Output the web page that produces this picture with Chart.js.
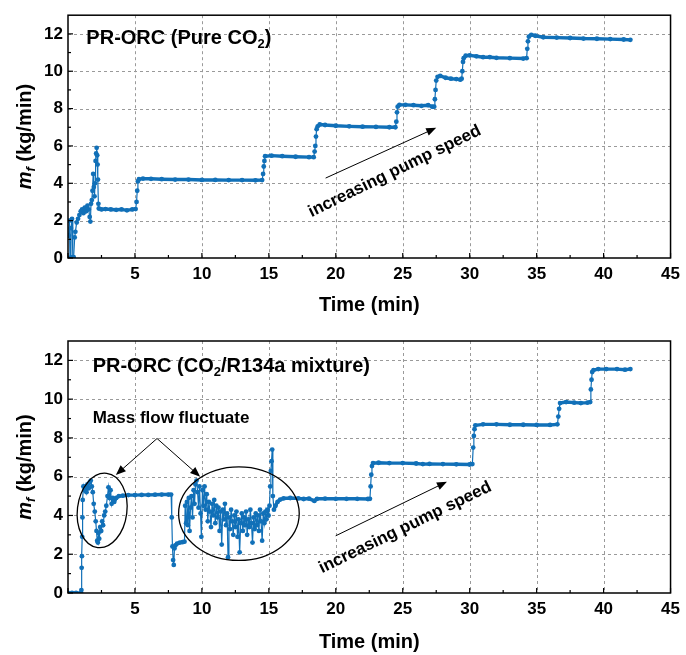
<!DOCTYPE html>
<html>
<head>
<meta charset="utf-8">
<script src="https://cdn.jsdelivr.net/npm/chart.js@4.4.0/dist/chart.umd.min.js"></script>
<style>
html,body{margin:0;padding:0;background:#fff;}
#wrap{position:relative;width:686px;height:655px;background:#fff;}
canvas{position:absolute;left:0;}
</style>
</head>
<body>
<div id="wrap">
<canvas id="c1" width="686" height="325" style="top:0;width:686px;height:325px"></canvas>
<canvas id="c2" width="686" height="330" style="top:325px;width:686px;height:330px"></canvas>
</div>
<script>
// ---------------- DATA ----------------
const xTickValues = [0, 5, 10, 15, 20, 25, 30, 35, 40, 45];
const yTickValues = [0, 2, 4, 6, 8, 10, 12];

// Top panel: PR-ORC (Pure CO2)
const timeTop = [
0.05,0.1,0.15,0.22,0.3,0.36,0.42,0.5,0.55,0.65,0.75,0.85,0.95,1.05,1.15,1.25,1.35,1.45,1.55,1.62,1.67,1.72,1.78,1.83,1.88,1.93,1.98,2.02,2.06,2.1,2.14,2.18,2.21,2.24,2.27,2.3,
2.5,2.8,3.2,3.6,4.0,4.4,4.8,5.05,5.12,5.17,5.22,5.3,5.6,6.2,7.0,8.0,9.0,10.0,11.0,12.0,13.0,14.0,14.5,
14.57,14.62,14.67,14.72,15.2,16.0,17.0,18.0,18.35,18.42,18.47,18.52,18.57,18.65,18.8,19.2,20.0,21.0,22.0,23.0,24.0,24.45,
24.52,24.57,24.62,24.75,25.2,25.8,26.4,26.9,27.2,27.35,27.4,27.45,27.5,27.6,27.8,28.2,28.6,29.0,29.3,29.4,
29.45,29.5,29.55,29.7,30.0,30.5,31.0,31.5,32.0,33.0,34.0,34.25,34.3,34.35,34.42,34.6,34.9,35.5,36.5,37.5,38.5,39.5,40.5,41.5,42.0
];
const flowTop = [
1.2,2.0,0.0,1.6,2.1,0.05,0.05,1.1,1.4,1.9,2.1,2.3,2.5,2.6,2.4,2.7,2.5,2.8,2.6,2.2,1.95,2.9,3.1,3.6,4.5,3.8,3.3,4.0,5.2,5.6,5.9,5.5,5.0,4.2,2.9,2.65,
2.6,2.62,2.6,2.58,2.6,2.55,2.6,2.62,3.0,3.6,4.1,4.22,4.25,4.24,4.22,4.2,4.2,4.18,4.18,4.17,4.17,4.16,4.17,
4.5,4.9,5.2,5.45,5.48,5.45,5.42,5.4,5.4,5.7,6.0,6.5,6.9,7.05,7.15,7.12,7.08,7.05,7.03,7.02,7.0,7.0,
7.3,7.8,8.1,8.2,8.2,8.18,8.15,8.18,8.1,8.1,8.5,9.0,9.5,9.7,9.75,9.65,9.6,9.58,9.55,9.6,
10.0,10.5,10.7,10.83,10.85,10.8,10.75,10.75,10.72,10.7,10.68,10.7,11.2,11.6,11.85,11.95,11.9,11.82,11.8,11.78,11.75,11.74,11.72,11.7,11.68
];

// Bottom panel: PR-ORC (CO2/R134a mixture)
const timeBottom = [
0.0,0.3,0.6,0.98,1.0,1.02,1.04,1.06,1.08,1.1,1.15,1.22,1.3,1.38,1.45,1.55,1.62,1.7,1.78,1.85,1.92,2.0,2.07,2.13,2.18,2.23,2.28,2.33,2.4,2.48,2.55,2.62,2.7,2.78,2.86,2.95,3.02,3.1,3.18,3.26,3.34,3.45,3.6,3.8,
4.1,4.5,5.0,5.5,6.0,6.5,7.0,7.5,7.7,7.75,7.8,7.85,7.9,7.95,8.02,8.15,8.35,8.55,8.7,
8.75,8.82,8.88,8.95,9.02,9.08,9.15,9.22,9.3,9.38,9.45,9.52,9.6,9.68,9.75,9.82,9.9,9.96,10.04,10.12,10.2,10.28,10.36,10.44,10.52,10.6,10.68,10.76,10.84,10.92,
11.0,11.08,11.16,11.24,11.32,11.4,11.48,11.56,11.64,11.72,11.8,11.88,11.95,12.02,12.1,12.18,12.26,12.34,12.42,12.5,12.58,12.66,12.74,12.82,12.9,12.98,
13.06,13.14,13.22,13.3,13.38,13.46,13.54,13.62,13.7,13.78,13.86,13.94,14.02,14.1,14.18,14.26,14.34,14.42,14.5,14.58,14.66,14.74,14.82,14.9,14.98,
15.05,15.1,15.15,15.2,15.25,15.3,15.38,15.5,15.65,15.85,16.1,16.6,17.2,17.6,18.0,18.4,18.6,19.2,20.0,20.8,21.6,22.4,22.55,
22.6,22.65,22.7,22.78,23.2,24.0,25.0,26.0,26.5,27.0,28.0,29.0,30.0,30.2,30.26,30.31,30.36,30.42,31.0,32.0,33.0,34.0,35.0,36.0,36.55,
36.62,36.68,36.75,37.2,37.8,38.3,38.8,39.0,39.05,39.1,39.15,39.25,39.6,40.2,41.0,41.6,42.0
];
const flowBottom = [
0,0,0,0,0.15,1.3,1.9,2.9,3.9,4.8,5.5,5.3,5.5,5.2,5.6,5.4,5.7,5.8,5.5,5.2,4.6,4.2,3.7,3.2,2.7,2.6,3.1,2.8,3.4,3.2,3.7,3.5,4.0,4.2,4.5,5.0,5.45,4.9,5.3,4.6,4.9,4.7,4.9,5.0,
5.02,5.05,5.05,5.06,5.06,5.07,5.08,5.08,5.08,3.9,2.4,1.7,1.45,2.3,2.45,2.55,2.6,2.62,2.65,
4.5,3.6,4.7,3.5,4.9,3.2,4.4,5.0,3.9,5.3,4.6,5.6,5.8,5.2,4.4,5.5,4.1,2.9,5.3,4.5,5.5,4.3,5.1,3.7,4.7,4.2,3.4,4.6,4.0,4.8,
3.6,4.5,3.9,4.4,3.2,4.2,2.5,4.3,3.8,4.6,3.5,4.1,1.85,3.9,3.3,4.3,3.7,3.0,4.0,3.4,4.2,2.9,3.8,2.1,3.6,4.1,
3.2,3.9,3.5,4.2,3.0,3.8,3.4,4.3,3.6,2.6,3.9,3.3,4.1,3.5,4.0,3.2,4.3,3.7,2.7,4.1,3.6,4.2,3.8,4.3,4.0,
4.5,5.5,6.3,6.8,7.4,5.0,4.3,4.5,4.7,4.82,4.88,4.9,4.88,4.85,4.87,4.75,4.86,4.87,4.86,4.86,4.86,4.85,4.86,
5.5,6.1,6.55,6.7,6.72,6.7,6.7,6.68,6.65,6.66,6.65,6.64,6.63,6.65,7.5,8.1,8.45,8.65,8.7,8.7,8.68,8.68,8.67,8.67,8.7,
9.1,9.5,9.8,9.85,9.82,9.8,9.82,9.85,10.5,11.0,11.4,11.5,11.55,11.55,11.55,11.52,11.55
];

// ---------------- STYLE / ANNOTATION CONFIG ----------------
const FF = '"Liberation Sans", Arial, Helvetica, sans-serif';
const BLUE = '#1170b8';

const topCfg = {
  padTop: 6, xAxisH: 67, titlePad: 8,
  title: {parts: [{t: 'PR-ORC (Pure CO'}, {t: '2', sub: true}, {t: ')'}], x: 1.37, y: 11.75, size: 20},
  labels: [],
  arrows: [[19.24, 4.28, 27.5, 6.97]],
  ellipses: [],
  rotText: {text: 'increasing pump speed', x: 24.4, y: 4.64, angle: -26, size: 17}
};
const botCfg = {
  padTop: 16, xAxisH: 62, titlePad: 1,
  title: {parts: [{t: 'PR-ORC (CO'}, {t: '2', sub: true}, {t: '/R134a mixture)'}], x: 1.84, y: 11.69, size: 20},
  labels: [{text: 'Mass flow fluctuate', x: 1.84, y: 9.02, size: 17}],
  arrows: [[6.65, 7.97, 3.57, 6.09], [6.65, 7.97, 9.87, 6.0], [19.99, 2.95, 28.3, 5.74]],
  ellipses: [{x1: 0.7, x2: 4.4, y1: 2.33, y2: 6.19, rot: 0.12}, {x1: 8.26, x2: 17.27, y1: 1.68, y2: 6.51, rot: 0}],
  rotText: {text: 'increasing pump speed', x: 25.18, y: 3.38, angle: -26, size: 17}
};

// ---------------- HELPERS ----------------
function fontStr(size, italic) { return (italic ? 'italic ' : '') + 'bold ' + size + 'px ' + FF; }
function richWidth(ctx, parts, size) {
  let w = 0;
  for (const p of parts) { ctx.font = fontStr(p.sub ? size * 0.65 : size, p.italic); w += ctx.measureText(p.t).width; }
  return w;
}
function drawRich(ctx, parts, x, y, size) {
  ctx.textBaseline = 'middle'; ctx.textAlign = 'left'; ctx.fillStyle = '#000';
  let cx = x;
  for (const p of parts) {
    const s = p.sub ? size * 0.65 : size;
    ctx.font = fontStr(s, p.italic);
    ctx.fillText(p.t, cx, p.sub ? y + size * 0.3 : y);
    cx += ctx.measureText(p.t).width;
  }
}
function drawArrow(ctx, x1, y1, x2, y2) {
  const a = Math.atan2(y2 - y1, x2 - x1), L = 10, W = 4;
  ctx.strokeStyle = '#000'; ctx.fillStyle = '#000'; ctx.lineWidth = 1;
  ctx.beginPath(); ctx.moveTo(x1, y1); ctx.lineTo(x2 - Math.cos(a) * L * 0.8, y2 - Math.sin(a) * L * 0.8); ctx.stroke();
  ctx.beginPath();
  ctx.moveTo(x2, y2);
  ctx.lineTo(x2 - L * Math.cos(a) + W * Math.sin(a), y2 - L * Math.sin(a) - W * Math.cos(a));
  ctx.lineTo(x2 - L * Math.cos(a) - W * Math.sin(a), y2 - L * Math.sin(a) + W * Math.cos(a));
  ctx.closePath(); ctx.fill();
}

function framePlugin(cfg) {
  return {
    id: 'frame',
    beforeDatasetsDraw(chart) {
      const {ctx, chartArea: ca, scales: {x, y}} = chart;
      ctx.save();
      ctx.strokeStyle = '#9a9a9a'; ctx.lineWidth = 1; ctx.setLineDash([3, 3]);
      for (const v of xTickValues) {
        if (v <= x.min || v >= x.max) continue;
        const px = Math.round(x.getPixelForValue(v)) + 0.5;
        ctx.beginPath(); ctx.moveTo(px, ca.top); ctx.lineTo(px, ca.bottom); ctx.stroke();
      }
      for (const v of yTickValues) {
        if (v <= y.min || v >= y.max) continue;
        const py = Math.round(y.getPixelForValue(v)) + 0.5;
        ctx.beginPath(); ctx.moveTo(ca.left, py); ctx.lineTo(ca.right, py); ctx.stroke();
      }
      ctx.restore();
    },
    afterDatasetsDraw(chart) {
      const {ctx, chartArea: ca, scales: {x, y}} = chart;
      ctx.save();
      ctx.setLineDash([]);
      ctx.strokeStyle = '#000'; ctx.lineWidth = 1.5;
      ctx.strokeRect(ca.left, ca.top, ca.right - ca.left, ca.bottom - ca.top);
      ctx.lineWidth = 1.2;
      // inward ticks on bottom axis (major every 5, minor at half)
      for (let i = 0; i < xTickValues.length; i++) {
        const v = xTickValues[i];
        const px = x.getPixelForValue(v);
        ctx.beginPath(); ctx.moveTo(px, ca.bottom); ctx.lineTo(px, ca.bottom - 5); ctx.stroke();
        if (i < xTickValues.length - 1) {
          const m = x.getPixelForValue((v + xTickValues[i + 1]) / 2);
          ctx.beginPath(); ctx.moveTo(m, ca.bottom); ctx.lineTo(m, ca.bottom - 3); ctx.stroke();
        }
      }
      for (let i = 0; i < yTickValues.length; i++) {
        const v = yTickValues[i];
        const py = y.getPixelForValue(v);
        ctx.beginPath(); ctx.moveTo(ca.left, py); ctx.lineTo(ca.left + 5, py); ctx.stroke();
        const next = i < yTickValues.length - 1 ? yTickValues[i + 1] : v + 2;
        const mv = (v + next) / 2;
        if (mv < y.max) {
          const m = y.getPixelForValue(mv);
          ctx.beginPath(); ctx.moveTo(ca.left, m); ctx.lineTo(ca.left + 3, m); ctx.stroke();
        }
      }
      // annotations
      const X = v => x.getPixelForValue(v), Y = v => y.getPixelForValue(v);
      drawRich(ctx, cfg.title.parts, X(cfg.title.x), Y(cfg.title.y), cfg.title.size);
      for (const l of cfg.labels) drawRich(ctx, [{t: l.text}], X(l.x), Y(l.y), l.size);
      for (const a of cfg.arrows) drawArrow(ctx, X(a[0]), Y(a[1]), X(a[2]), Y(a[3]));
      ctx.strokeStyle = '#000'; ctx.lineWidth = 1.3;
      for (const e of cfg.ellipses) {
        const cx = (X(e.x1) + X(e.x2)) / 2, cy = (Y(e.y1) + Y(e.y2)) / 2;
        const rx = Math.abs(X(e.x2) - X(e.x1)) / 2, ry = Math.abs(Y(e.y2) - Y(e.y1)) / 2;
        ctx.beginPath(); ctx.ellipse(cx, cy, rx, ry, e.rot, 0, Math.PI * 2); ctx.stroke();
      }
      const r = cfg.rotText;
      ctx.save();
      ctx.translate(X(r.x), Y(r.y)); ctx.rotate(r.angle * Math.PI / 180);
      ctx.font = fontStr(r.size); ctx.fillStyle = '#000'; ctx.textAlign = 'center'; ctx.textBaseline = 'middle';
      ctx.fillText(r.text, 0, 0);
      ctx.restore();
      // y axis title
      const yParts = [{t: 'm', italic: true}, {t: 'f', italic: true, sub: true}, {t: ' (kg/min)'}];
      ctx.save();
      ctx.translate(25, (ca.top + ca.bottom) / 2); ctx.rotate(-Math.PI / 2);
      const w = richWidth(ctx, yParts, 20);
      drawRich(ctx, yParts, -w / 2, 0, 20);
      ctx.restore();
      ctx.restore();
    }
  };
}

function makeChart(id, xs, ys, cfg) {
  return new Chart(document.getElementById(id), {
    type: 'line',
    data: {datasets: [{
      data: xs.map((t, i) => ({x: t, y: ys[i]})),
      borderColor: BLUE, backgroundColor: BLUE, borderWidth: 3.4,
      pointRadius: 2.4, pointBorderWidth: 0, pointHoverRadius: 0, tension: 0,
      segment: {borderWidth: c => Math.abs(c.p1.y - c.p0.y) > 2.5 * Math.abs(c.p1.x - c.p0.x) ? 1.2 : 3.4}
    }]},
    options: {
      responsive: false, animation: false, events: [],
      layout: {padding: {top: cfg.padTop, right: 10, left: 0, bottom: 0}},
      plugins: {legend: {display: false}, tooltip: {enabled: false}},
      scales: {
        x: {
          type: 'linear', min: 0, max: 45,
          grid: {display: false, drawTicks: false}, border: {display: false},
          afterBuildTicks: a => { a.ticks = xTickValues.map(v => ({value: v})); },
          ticks: {color: '#000', font: {family: FF, size: 17, weight: 'bold'}, padding: 6, maxRotation: 0, autoSkip: false,
                  callback: v => v === 0 ? '' : String(v)},
          title: {display: true, text: 'Time (min)', color: '#000', font: {family: FF, size: 20, weight: 'bold'},
                  padding: {top: 0, bottom: cfg.titlePad}},
          afterFit: a => { a.height = cfg.xAxisH; }
        },
        y: {
          type: 'linear', min: 0, max: 13,
          grid: {display: false, drawTicks: false}, border: {display: false},
          afterBuildTicks: a => { a.ticks = yTickValues.map(v => ({value: v})); },
          ticks: {color: '#000', font: {family: FF, size: 17, weight: 'bold'}, padding: 5, autoSkip: false},
          afterFit: a => { a.width = 68; }
        }
      }
    },
    plugins: [framePlugin(cfg)]
  });
}

makeChart('c1', timeTop, flowTop, topCfg);
makeChart('c2', timeBottom, flowBottom, botCfg);
</script>
</body>
</html>
